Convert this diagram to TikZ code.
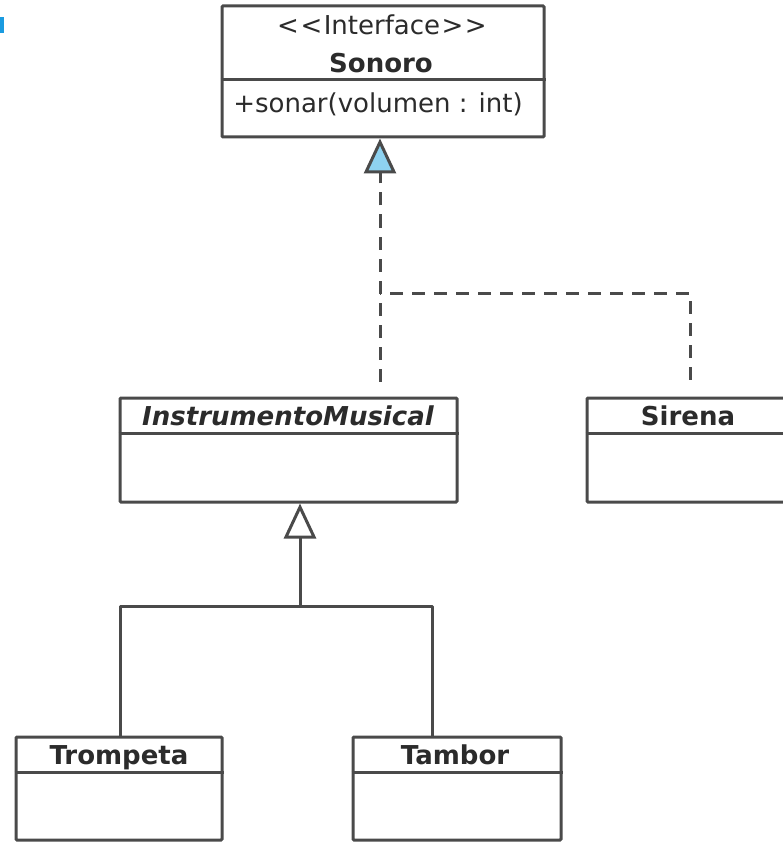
\documentclass[tikz,border=0pt]{standalone}
\usepackage{fontspec}
\setmainfont{DejaVu Sans}
\usetikzlibrary{arrows.meta,calc}

\definecolor{umlline}{HTML}{4A4A4A}
\definecolor{umltext}{HTML}{2B2B2B}
\definecolor{ifacefill}{HTML}{8ED2F0}
\definecolor{markblue}{HTML}{1A9BE0}

\tikzset{
  classbox/.style={draw=umlline, line width=3pt, fill=white, inner sep=0pt,
    rectangle, rounded corners=1pt},
  divider/.style={draw=umlline, line width=3pt},
  label/.style={inner sep=0pt, anchor=base, text=umltext,
    font=\fontsize{26}{30}\selectfont},
  title/.style={label, font=\fontsize{26}{30}\selectfont\bfseries},
  abstitle/.style={label, font=\fontsize{26}{30}\selectfont\bfseries\itshape},
  inherit/.style={draw=umlline, line width=3pt, line join=round},
  realize/.style={draw=umlline, line width=3pt, dash pattern=on 13pt off 9pt},
  hollowtip/.style={-{Triangle[length=35pt, width=32pt, fill=white, line join=miter]}},
  ifacetip/.style={-{Triangle[length=35pt, width=32pt, fill=ifacefill, line join=miter]}}
}

\begin{document}
\begin{tikzpicture}[x=1pt, y=-1pt]
  \useasboundingbox[fill=white] (0,0) rectangle (783,842);

  % small blue mark in the corner
  \fill[markblue] (0,17) rectangle (3.5,33);

  % interface Sonoro
  \node[classbox, minimum width=322pt, minimum height=131pt] (sonoro) at (383,71.5) {};
  \draw[divider] (sonoro.west |- 0,80) -- (sonoro.east |- 0,80);
  \node[label] (stereo) at (382,35) {<\kern1.5pt<\kern1.5pt Interface\kern1.5pt>\kern1.5pt>};
  \node[title] (sonoroname) at (381,73) {Sonoro};
  \node[label] (sonar) at (378,113) {+sonar(volumen : int)};

  % abstract class InstrumentoMusical
  \node[classbox, minimum width=337pt, minimum height=104pt] (instr) at (288.5,450) {};
  \draw[divider] (instr.west |- 0,433) -- (instr.east |- 0,433);
  \node[abstitle] (instrname) at (288,425) {InstrumentoMusical};

  % class Sirena
  \node[classbox, minimum width=213pt, minimum height=104pt] (sirena) at (693.5,450) {};
  \draw[divider] (sirena.west |- 0,433) -- (sirena.east |- 0,433);
  \node[title] (sirenaname) at (688,425) {Sirena};

  % class Trompeta
  \node[classbox, minimum width=206pt, minimum height=103pt] (trompeta) at (119,788.5) {};
  \draw[divider] (trompeta.west |- 0,772) -- (trompeta.east |- 0,772);
  \node[title] (trompetaname) at (119,764) {Trompeta};

  % class Tambor
  \node[classbox, minimum width=208pt, minimum height=103pt] (tambor) at (457,788.5) {};
  \draw[divider] (tambor.west |- 0,772) -- (tambor.east |- 0,772);
  \node[title] (tamborname) at (455,764) {Tambor};

  % realization of Sonoro
  \coordinate (rj) at (380,293);
  \coordinate (rs) at (690,293);
  \draw[realize] ($(rs |- sirena.north)+(0,-17)$) -- (rs) -- (rj);
  \draw[realize, ifacetip] ($(rj |- instr.north)+(0,-15)$) -- (rj) -- (sonoro.south -| rj);

  % generalization of InstrumentoMusical
  \coordinate (gj) at (300,606);
  \coordinate (gl) at (120,606);
  \coordinate (gr) at (432,606);
  \draw[inherit] (gl |- trompeta.north) -- (gl) -- (gr) -- (gr |- tambor.north);
  \draw[inherit, hollowtip] (gj) -- (gj |- instr.south);
\end{tikzpicture}
\end{document}
